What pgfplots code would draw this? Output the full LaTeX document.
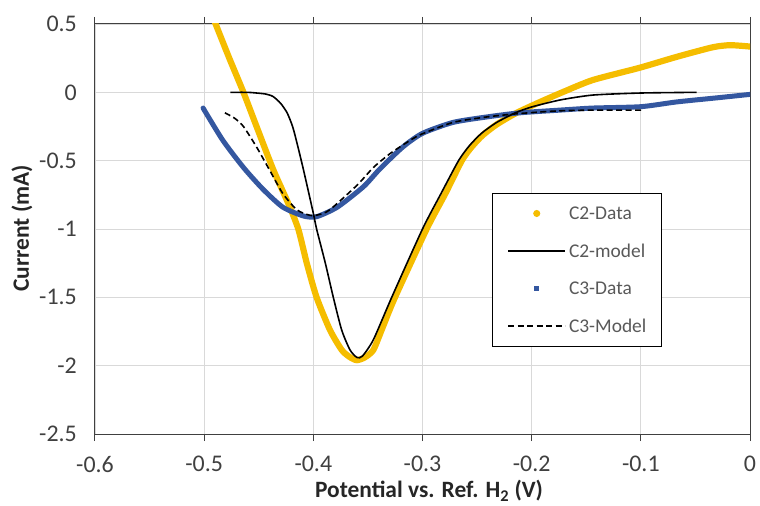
\documentclass[border=0pt]{standalone}
\usepackage{pgfplots}
\pgfplotsset{compat=1.18}
\usepackage{fontspec}
\setmainfont{Carlito}
\definecolor{cgold}{HTML}{F5BD00}
\definecolor{cblue}{HTML}{3457A0}
\definecolor{cgrid}{HTML}{D9D9D9}
\definecolor{ctext}{HTML}{595959}
\definecolor{cax}{HTML}{404040}
\begin{document}
\begin{tikzpicture}
\begin{axis}[
  at={(0,0)}, anchor=south west,
  scale only axis, width=655bp, height=410bp,
  xmin=-0.6, xmax=0, ymin=-2.5, ymax=0.5,
  xtick={-0.6,-0.5,-0.4,-0.3,-0.2,-0.1,0},
  xticklabels={-0.6,-0.5,-0.4,-0.3,-0.2,-0.1,0},
  ytick={-2.5,-2,-1.5,-1,-0.5,0,0.5},
  yticklabels={-2.5,-2,-1.5,-1,-0.5,0,0.5},
  grid=major, grid style={cgrid, line width=0.8bp},
  axis line style={cax, line width=1bp},
  tick align=outside,
  major tick length=7bp,
  xtick style={cax, line width=1bp},
  ytick style={draw=none},
  ticklabel style={font=\fontsize{24}{28}\selectfont, text=cax},
  xticklabel style={anchor=north, inner sep=0pt, yshift=-15bp},
  yticklabel style={anchor=east, inner sep=0pt, xshift=-11bp},
  xlabel={\bfseries Potential vs. Ref. H\textsubscript{2} (V)},
  ylabel={\bfseries Current (mA)},
  every axis x label/.style={at={(rel axis cs:0.51,0)}, anchor=center, yshift=-57bp, font=\fontsize{23.5}{26}\selectfont, text=black!85},
  every axis y label/.style={at={(axis description cs:-0.1115,0.502)}, anchor=center, rotate=90, font=\fontsize{23.5}{26}\selectfont, text=black!85},
  legend style={at={(rel axis cs:0.606,0.588)}, anchor=north west, draw=black, line width=1bp,
    font=\fontsize{19.5}{22}\selectfont, text=ctext,
    inner xsep=15bp, inner ysep=13bp, row sep=23bp, column sep=3bp,
    nodes={inner sep=0pt}},
  legend cell align=left,
  legend image code/.code={\draw[#1] (0bp,0bp) -- (57bp,0bp);},
]
% C2-Data
\addplot[cgold, line width=6.2bp, smooth, tension=0.4, line cap=round, line join=round, forget plot] coordinates {
(-0.4905,0.52) (-0.477,0.25) (-0.464,0.0) (-0.452,-0.25) (-0.4366,-0.568) (-0.423,-0.812) (-0.4138,-1.0)
(-0.406,-1.25) (-0.397,-1.5) (-0.3847,-1.74) (-0.374,-1.885) (-0.367,-1.935) (-0.3603,-1.96) (-0.353,-1.94)
(-0.345,-1.885) (-0.336,-1.71) (-0.3252,-1.5) (-0.2962,-1.0) (-0.279,-0.74) (-0.264,-0.5) (-0.255,-0.40)
(-0.245,-0.315) (-0.232,-0.235) (-0.215,-0.155) (-0.195,-0.08) (-0.172,0.0) (-0.144,0.09) (-0.101,0.18)
(-0.067,0.26) (-0.034,0.33) (-0.018,0.345) (0,0.335)
};
% C3-Data
\addplot[cblue, line width=5bp, smooth, tension=0.4, line cap=round, line join=round, forget plot] coordinates {
(-0.501,-0.115) (-0.483,-0.35) (-0.464,-0.55) (-0.446,-0.71) (-0.428,-0.84) (-0.409,-0.905) (-0.397,-0.91)
(-0.378,-0.84) (-0.354,-0.69) (-0.339,-0.56) (-0.318,-0.40) (-0.300,-0.30) (-0.272,-0.22) (-0.241,-0.18)
(-0.211,-0.15) (-0.174,-0.13) (-0.144,-0.115) (-0.100,-0.105) (-0.067,-0.07) (-0.030,-0.04) (0,-0.015)
};
% C2-model
\addplot[black, line width=1.6bp, smooth, tension=0.4, forget plot] coordinates {
(-0.476,0.0) (-0.460,0.0) (-0.452,-0.005) (-0.444,-0.012) (-0.437,-0.03) (-0.430,-0.08) (-0.424,-0.15)
(-0.419,-0.25) (-0.415,-0.37) (-0.409,-0.568) (-0.400,-0.885) (-0.397,-1.0) (-0.389,-1.25) (-0.3817,-1.5)
(-0.374,-1.74) (-0.3664,-1.885) (-0.360,-1.94) (-0.355,-1.93) (-0.345,-1.81) (-0.3282,-1.5) (-0.300,-1.0)
(-0.283,-0.74) (-0.267,-0.5) (-0.257,-0.39) (-0.246,-0.30) (-0.232,-0.22) (-0.215,-0.15) (-0.200,-0.107)
(-0.174,-0.056) (-0.144,-0.02) (-0.100,-0.005) (-0.049,0.0)
};
% C3-Model
\addplot[black, line width=1.6bp, dash pattern=on 6bp off 3.5bp, smooth, tension=0.4, forget plot] coordinates {
(-0.481,-0.15) (-0.472,-0.19) (-0.464,-0.25) (-0.452,-0.40) (-0.440,-0.57) (-0.428,-0.74) (-0.415,-0.86)
(-0.403,-0.90) (-0.395,-0.895) (-0.385,-0.86) (-0.360,-0.68) (-0.345,-0.55) (-0.330,-0.45) (-0.315,-0.37)
(-0.302,-0.31) (-0.272,-0.22) (-0.241,-0.18) (-0.211,-0.155) (-0.174,-0.135) (-0.140,-0.13) (-0.099,-0.13)
};
\addlegendimage{legend image code/.code={\fill[cgold] (28.5bp,0bp) circle (3bp);}}
\addlegendentry{C2-Data}
\addlegendimage{black, line width=1.6bp}
\addlegendentry{C2-model}
\addlegendimage{legend image code/.code={\fill[cblue] (26.5bp,-2bp) rectangle (30.5bp,2bp);}}
\addlegendentry{C3-Data}
\addlegendimage{black, line width=1.6bp, dash pattern=on 6bp off 3.5bp}
\addlegendentry{C3-Model}
\end{axis}
\pgfresetboundingbox
\path (-95bp,-72bp) rectangle (665bp,434bp);
\end{tikzpicture}
\end{document}
